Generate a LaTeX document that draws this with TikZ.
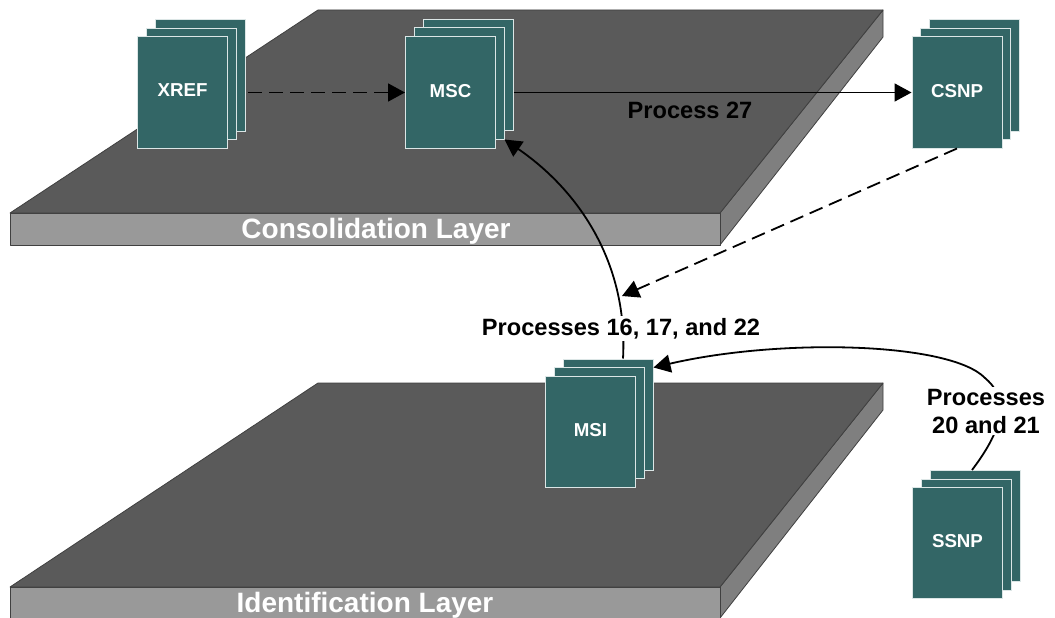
\documentclass[tikz,border=0pt]{standalone}
\usepackage{fontspec}
\setmainfont{Liberation Sans}
\usetikzlibrary{arrows.meta}
\definecolor{slabtop}{HTML}{5A5A5A}
\definecolor{slabfront}{HTML}{999999}
\definecolor{slabside}{HTML}{7F7F7F}
\definecolor{teal}{HTML}{336666}
\definecolor{pageedge}{HTML}{DCE6E6}
\newcommand{\pagetext}[1]{\raisebox{4pt}{#1}}
\tikzset{
  x=1pt,y=-1pt,
  page/.style={draw=pageedge,line width=1pt,fill=teal,minimum width=90pt,minimum height=111pt,inner sep=0pt,
     text=white,font=\fontsize{18.7}{20}\selectfont\bfseries},
  topface/.style={fill=slabtop,draw=black!75,line width=0.8pt,line join=round},
  frontface/.style={fill=slabfront,draw=black!75,line width=0.8pt,line join=round},
  sideface/.style={fill=slabside,draw=black!75,line width=0.8pt,line join=round},
  layerlabel/.style={text=white,font=\fontsize{28}{30}\selectfont\bfseries,inner sep=0pt},
  proclabel/.style={fill=white,text=black,font=\fontsize{23.6}{28}\selectfont\bfseries,inner sep=2pt,align=center},
  plainlabel/.style={text=black,font=\fontsize{23.6}{28}\selectfont\bfseries,inner sep=0pt},
  conn/.style={draw=black,line width=1.8pt,-{Triangle[length=17pt,width=18pt]}},
  dashconn/.style={conn,dash pattern=on 14pt off 7pt},
}
\begin{document}
\begin{tikzpicture}
\useasboundingbox (0,0) rectangle (1055,618);
\fill[white] (0,0) rectangle (1055,618);
% upper slab
\draw[sideface] (883,10) -- (883,37) -- (720,245) -- (720,213) -- cycle;
\draw[frontface] (10,213) -- (720,213) -- (720,245) -- (10,245) -- cycle;
\draw[topface] (10,213) -- (318,10) -- (883,10) -- (720,213) -- cycle;
\node[layerlabel] (conslabel) at (376,231) {Consolidation Layer};
% lower slab
\begin{scope}
\clip (0,0) rectangle (1055,618);
\draw[sideface] (883,383) -- (883,410) -- (720,618) -- (720,587) -- cycle;
\draw[frontface] (10,587) -- (720,587) -- (720,630) -- (10,630) -- cycle;
\draw[topface] (10,587) -- (318,383) -- (883,383) -- (720,587) -- cycle;
\end{scope}
\node[layerlabel] (identlabel) at (365,605) {Identification Layer};
% XREF
\node[page] (xrefback) at (200,75.5) {};
\node[page] (xrefmid) at (191,84) {};
\node[page] (xref) at (182.5,92.5) {\pagetext{XREF}};
% MSC
\node[page] (mscback) at (468,75) {};
\node[page] (mscmid) at (459,83.5) {};
\node[page] (msc) at (450.5,92.5) {\pagetext{MSC}};
% CSNP
\node[page] (csnpback) at (974,75.5) {};
\node[page] (csnpmid) at (965,84) {};
\node[page] (csnp) at (957,92.5) {\pagetext{CSNP}};
% connectors under the lower stacks
\coordinate (merge) at (622,296);
\draw[dashconn] (csnp.south) -- (merge);
\draw[conn] (msc.east -| mscback.east) -- (csnp.west);
\draw[dashconn] ([xshift=20pt]xref.east) -- (msc.west);
% MSI
\node[page] (msiback) at (608,414.5) {};
\node[page] (msimid) at (599,423) {};
\node[page] (msi) at (590.5,431.5) {\pagetext{MSI}};
% SSNP
\node[page] (ssnpback) at (975,526) {};
\node[page] (ssnpmid) at (966,534.5) {};
\node[page] (ssnp) at (957.5,543) {\pagetext{SSNP}};
\draw[conn] ([xshift=15pt]msiback.north) .. controls (628,270) and (585,195) .. (mscmid.south east);
\draw[conn] ([xshift=-3pt]ssnpback.north) .. controls (1010,420) and (1005,395) .. (985,378) .. controls (950,342) and (780,338) .. ([yshift=-9pt]msiback.north east);
\node[plainlabel] (p27) at (690,110.5) {Process 27};
\node[proclabel] (p161722) at (621,328.5) {Processes 16, 17, and 22};
\node[proclabel] (p2021) at (986,411) {Processes\\20 and 21};
\end{tikzpicture}
\end{document}
